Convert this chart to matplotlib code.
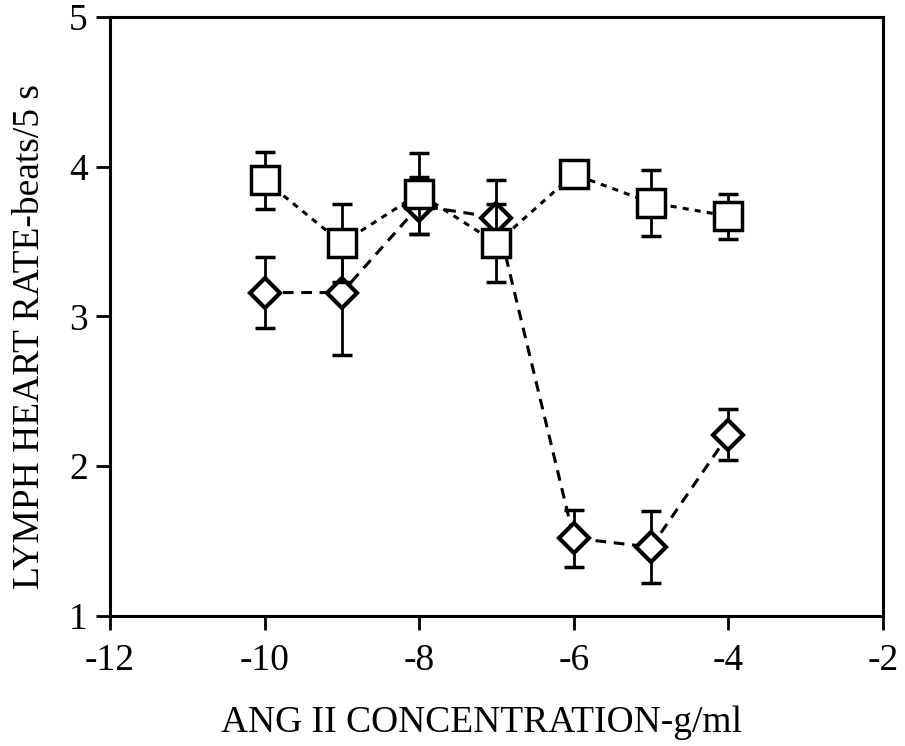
import numpy as np
import matplotlib.pyplot as plt

# ------------------------------------------------------------
# data
# ------------------------------------------------------------
conc = [-10, -9, -8, -7, -6, -5, -4]          # log g/ml

sq_mean = [3.91, 3.49, 3.82, 3.49, 3.95, 3.76, 3.67]
sq_err  = [0.19, 0.26, 0.27, 0.26, 0.02, 0.22, 0.15]

dia_mean = [3.16, 3.16, 3.74, 3.66, 1.52, 1.46, 2.21]
dia_err  = [0.24, 0.42, 0.19, 0.25, 0.19, 0.24, 0.17]

xticks = [-12, -10, -8, -6, -4, -2]
yticks = [1, 2, 3, 4, 5]

# ------------------------------------------------------------
plt.rcParams['font.family'] = ['Liberation Serif', 'DejaVu Serif']

fig = plt.figure(figsize=(9.05, 7.46), dpi=100)
ax = fig.add_axes([0.1215, 0.1743, 0.8542, 0.8029])

# diamonds, dashed
ax.errorbar(conc, dia_mean, yerr=dia_err, fmt='none', ecolor='black',
            elinewidth=2, capsize=7, capthick=2.5, zorder=2)
ax.plot(conc, dia_mean, linestyle=(0, (3.5, 2.5)), color='black', lw=2.2,
        marker='D', ms=15, mfc='white', mec='black', mew=3, zorder=3)

# squares, dotted
ax.errorbar(conc, sq_mean, yerr=sq_err, fmt='none', ecolor='black',
            elinewidth=2, capsize=7, capthick=2.5, zorder=4)
ax.plot(conc, sq_mean, linestyle=(0, (2, 2)), color='black', lw=2.2,
        marker='s', ms=20, mfc='white', mec='black', mew=2.5, zorder=5)

ax.set_xlim(-12, -2)
ax.set_ylim(1, 5)
ax.set_xticks(xticks)
ax.set_yticks(yticks)
ax.set_xticklabels([str(t) for t in xticks])
ax.tick_params(direction='out', length=10, width=2, labelsize=27)
ax.tick_params(axis='x', pad=10)
ax.tick_params(axis='y', pad=6)

for s in ax.spines.values():
    s.set_linewidth(2.2)

ax.set_xlabel("ANG II CONCENTRATION-g/ml", fontsize=27)
ax.set_ylabel("LYMPH HEART RATE-beats/5 s", fontsize=27)
ax.xaxis.set_label_coords(0.481, -0.15)
ax.yaxis.set_label_coords(-0.082, 0.467)

fig.savefig("out.png", dpi=100)
